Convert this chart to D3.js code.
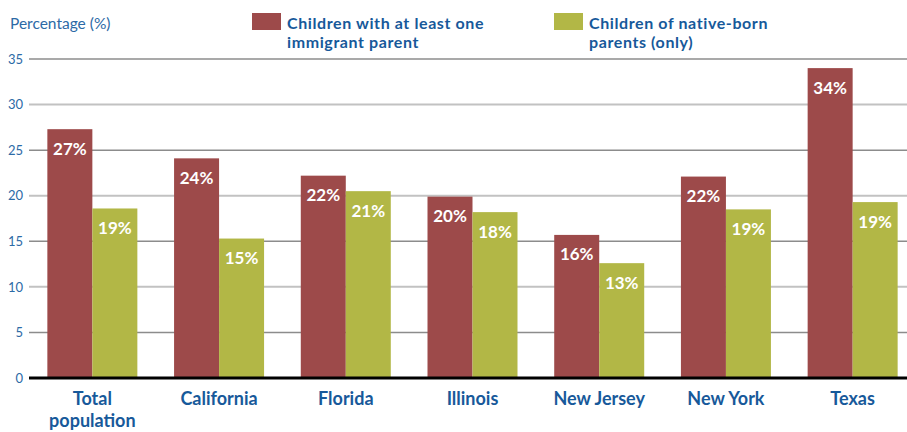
<!DOCTYPE html>
<html>
<head>
<meta charset="utf-8">
<script src="https://cdn.jsdelivr.net/npm/d3@7"></script>
<style>
    html, body { margin: 0; padding: 0; background: #ffffff; }
    svg { display: block; font-family: 'Lato', 'Noto Sans', sans-serif; }
</style>
</head>
<body>
<svg id="chart" width="907" height="432"></svg>
<script>
// Data
const categories = ['Total population', 'California', 'Florida', 'Illinois', 'New Jersey', 'New York', 'Texas'];
const immigrantParent = [27.3, 24.1, 22.2, 19.9, 15.7, 22.1, 34.0];
const nativeParents = [18.6, 15.3, 20.5, 18.2, 12.6, 18.5, 19.3];
const immigrantLabels = ['27%', '24%', '22%', '20%', '16%', '22%', '34%'];
const nativeLabels = ['19%', '15%', '21%', '18%', '13%', '19%', '19%'];
const yTicks = [0, 5, 10, 15, 20, 25, 30, 35];
const seriesNames = [
    ['Children with at least one', 'immigrant parent'],
    ['Children of native-born', 'parents (only)']
];

const colors = { immigrant: '#9d4a4a', native: '#b2b746' };
const blue = '#17599a';
const tickBlue = '#2c6aa6';

const width = 907, height = 432;
const plotLeft = 29, plotRight = 916;
const barWidth = 45;

const svg = d3.select('#chart');

const x = d3.scaleBand()
    .domain(categories)
    .range([plotLeft, plotRight])
    .padding(0);

const y = d3.scaleLinear()
    .domain([0, 35])
    .range([378, 59]);

// Gridlines - alternating dark / light grey
const grid = svg.append('g').attr('class', 'grid');
grid.selectAll('line')
    .data(yTicks.filter(d => d > 0))
    .enter().append('line')
    .attr('x1', plotLeft)
    .attr('x2', width)
    .attr('y1', d => y(d))
    .attr('y2', d => y(d))
    .attr('stroke', d => (d / 5) % 2 === 1 ? '#8c8c8c' : '#c2c2c2')
    .attr('stroke-width', d => (d / 5) % 2 === 1 ? 1.5 : 2);

// Y tick labels
const yAxis = d3.axisLeft(y).tickValues(yTicks).tickSize(0).tickPadding(5);
const yG = svg.append('g')
    .attr('transform', `translate(${plotLeft - 1},0)`)
    .call(yAxis);
yG.select('.domain').remove();
yG.selectAll('text')
    .attr('fill', tickBlue)
    .attr('font-size', '13px')
    .attr('font-family', "'Lato', sans-serif");

// Axis title
svg.append('text')
    .attr('x', 10)
    .attr('y', 29)
    .attr('fill', tickBlue)
    .attr('font-size', '15.5px')
    .text('Percentage (%)');

// Bars
const groups = svg.append('g').attr('class', 'bars')
    .selectAll('g')
    .data(categories)
    .enter().append('g')
    .attr('transform', d => `translate(${x(d) + x.bandwidth() / 2},0)`);

groups.append('rect')
    .attr('x', -barWidth)
    .attr('width', barWidth)
    .attr('y', (d, i) => y(immigrantParent[i]))
    .attr('height', (d, i) => y(0) - y(immigrantParent[i]))
    .attr('fill', colors.immigrant);

groups.append('rect')
    .attr('x', 0)
    .attr('width', barWidth)
    .attr('y', (d, i) => y(nativeParents[i]))
    .attr('height', (d, i) => y(0) - y(nativeParents[i]))
    .attr('fill', colors.native);

// Value labels inside bars
groups.append('text')
    .attr('x', -barWidth / 2)
    .attr('y', (d, i) => y(immigrantParent[i]) + 25.5)
    .attr('text-anchor', 'middle')
    .attr('fill', '#ffffff')
    .attr('font-size', '17px')
    .attr('font-weight', 'bold')
    .text((d, i) => immigrantLabels[i]);

groups.append('text')
    .attr('x', barWidth / 2)
    .attr('y', (d, i) => y(nativeParents[i]) + 25.5)
    .attr('text-anchor', 'middle')
    .attr('fill', '#ffffff')
    .attr('font-size', '17px')
    .attr('font-weight', 'bold')
    .text((d, i) => nativeLabels[i]);

// Baseline
svg.append('line')
    .attr('x1', plotLeft)
    .attr('x2', width)
    .attr('y1', y(0))
    .attr('y2', y(0))
    .attr('stroke', '#000000')
    .attr('stroke-width', 3);

// Category labels
const catLabels = svg.append('g').selectAll('text')
    .data(categories)
    .enter().append('text')
    .attr('x', d => x(d) + x.bandwidth() / 2)
    .attr('y', 405)
    .attr('text-anchor', 'middle')
    .attr('fill', blue)
    .attr('font-size', '18px')
    .attr('font-weight', 'bold');

catLabels.each(function(d) {
    const words = d === 'Total population' ? ['Total', 'population'] : [d];
    const t = d3.select(this);
    words.forEach((w, i) => {
        t.append('tspan')
            .attr('x', x(d) + x.bandwidth() / 2)
            .attr('dy', i === 0 ? 0 : 22)
            .text(w);
    });
});

// Legend
const legendX = [252, 554];
const legendColors = [colors.immigrant, colors.native];
const legend = svg.append('g').selectAll('g')
    .data(seriesNames)
    .enter().append('g')
    .attr('transform', (d, i) => `translate(${legendX[i]},0)`);

legend.append('rect')
    .attr('x', 0)
    .attr('y', 13)
    .attr('width', 29)
    .attr('height', 17)
    .attr('fill', (d, i) => legendColors[i]);

legend.append('text')
    .attr('fill', blue)
    .attr('font-size', '16px')
    .attr('font-weight', 'bold')
    .attr('letter-spacing', '0.6px')
    .each(function(d) {
        const t = d3.select(this);
        d.forEach((line, i) => {
            t.append('tspan')
                .attr('x', 35)
                .attr('y', 28.5 + i * 19.5)
                .text(line);
        });
    });
</script>
</body>
</html>
